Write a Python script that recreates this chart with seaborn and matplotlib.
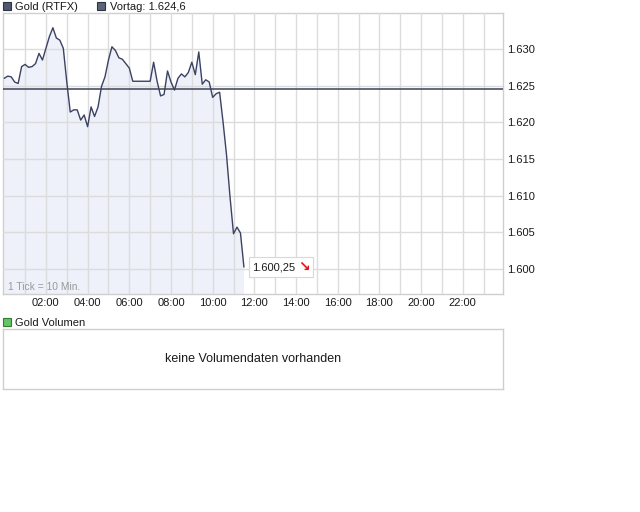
import numpy as np
import pandas as pd
import matplotlib
matplotlib.use("Agg")
import matplotlib.pyplot as plt
from matplotlib.lines import Line2D
from matplotlib.offsetbox import TextArea, HPacker, AnnotationBbox
import seaborn as sns

# ---- data (10-minute ticks starting at 00:00) ----
prices = [1.6260, 1.6263, 1.6262, 1.6255, 1.6253, 1.6276, 1.6279, 1.6275, 1.6276, 1.6280,
          1.6294, 1.6285, 1.6301, 1.6317, 1.6329, 1.6315, 1.6312, 1.6301, 1.6255, 1.6214,
          1.6217, 1.6217, 1.6203, 1.6210, 1.6194, 1.6221, 1.6208, 1.6221, 1.6249, 1.6262,
          1.6285, 1.6303, 1.6298, 1.6288, 1.6286, 1.6280, 1.6274, 1.6256, 1.6256, 1.6256,
          1.6256, 1.6256, 1.6256, 1.6282, 1.6256, 1.6236, 1.6238, 1.6270, 1.6255, 1.6244,
          1.6260, 1.6266, 1.6262, 1.6268, 1.6282, 1.6265, 1.6296, 1.6252, 1.6258, 1.6255,
          1.6234, 1.6239, 1.6241, 1.6200, 1.6155, 1.6098, 1.6048, 1.6057, 1.6049, 1.60025]
tick_minutes = 10
prev_close = 1.6246
prev_close_label = "Vortag: 1.624,6"
series_label = "Gold (RTFX)"
volume_label = "Gold Volumen"
last_label = "1.600,25"
hour_ticks = list(range(1, 24))
hour_labels = [f"{h:02d}:00" if h % 2 == 0 else "" for h in hour_ticks]
y_ticks = [1.600, 1.605, 1.610, 1.615, 1.620, 1.625, 1.630]
y_labels = ["1.600", "1.605", "1.610", "1.615", "1.620", "1.625", "1.630"]

times_h = np.arange(len(prices)) * tick_minutes / 60.0
df = pd.DataFrame({"h": times_h, "p": prices})

sns.set_style("white")
plt.rcParams["font.family"] = ["Liberation Sans", "DejaVu Sans"]

W, H = 640, 512
fig = plt.figure(figsize=(W / 100, H / 100), dpi=100)
fig.patch.set_facecolor("white")

grid_c = "#dcdcdc"
spine_c = "#cfcfcf"
line_c = "#3b4262"
text_c = "#1a1a1a"

# ---- main price panel ----
ax = fig.add_axes([3 / W, 1 - 294 / H, 500 / W, 281 / H])
ax.fill_between(df["h"], df["p"], 1.5, color="#eef0fa", lw=0, zorder=1)
sns.lineplot(data=df, x="h", y="p", ax=ax, color=line_c, lw=1.0, zorder=3)
ax.axhline(prev_close, color="#4b5166", lw=1.2, zorder=2.8)
ax.set_xlim(-0.06, 23.93)
ax.set_ylim(1.59658, 1.63491)
ax.set_xticks(hour_ticks)
ax.set_xticklabels(hour_labels)
ax.set_yticks(y_ticks)
ax.set_yticklabels(y_labels)
ax.yaxis.tick_right()
ax.tick_params(length=0, labelsize=8, labelcolor=text_c, pad=3)
ax.set_axisbelow(False)
ax.grid(True, color=grid_c, lw=1, zorder=2)
ax.set_xlabel("")
ax.set_ylabel("")
for s in ax.spines.values():
    s.set_color(spine_c)
    s.set_linewidth(1)

ax.text(0.01, 0.025, "1 Tick = 10 Min.", transform=ax.transAxes, fontsize=7.4,
        color="#9a9a9a", ha="left", va="center", zorder=5)

# last value box with red arrow
last_x, last_y = df["h"].iloc[-1], df["p"].iloc[-1]
num_area = TextArea(last_label, textprops=dict(fontsize=8, color=text_c))
arr_area = TextArea("\u2198", textprops=dict(fontsize=10, color="#e01010", fontweight="bold",
                                              family=["DejaVu Sans"]))
packed = HPacker(children=[num_area, arr_area], pad=0, sep=2, align="center")
ab = AnnotationBbox(packed, (last_x, last_y), xybox=(6, 0), boxcoords="offset points",
                    box_alignment=(0, 0.5), pad=0.2, frameon=True,
                    bboxprops=dict(boxstyle="square,pad=0.2", fc="white", ec="#d8d8d8", lw=0.8),
                    zorder=6)
ax.add_artist(ab)

# top legend
h1 = Line2D([], [], ls="none", marker="s", markersize=6, markerfacecolor="#505870",
            markeredgecolor="#2e3444", markeredgewidth=0.8)
h2 = Line2D([], [], ls="none", marker="s", markersize=6, markerfacecolor="#5c6478",
            markeredgecolor="#2e3444", markeredgewidth=0.8)
leg = ax.legend([h1, h2], [series_label, prev_close_label], ncol=2, loc="lower left",
                bbox_to_anchor=(-0.004, 1.0), frameon=False, fontsize=8, borderpad=0.1,
                borderaxespad=0.0, handlelength=0.8, handletextpad=0.4, columnspacing=1.65)
for t in leg.get_texts():
    t.set_color(text_c)

# ---- volume panel ----
ax2 = fig.add_axes([3 / W, 1 - 389 / H, 500 / W, 60 / H])
ax2.set_xticks([])
ax2.set_yticks([])
for s in ax2.spines.values():
    s.set_color(spine_c)
    s.set_linewidth(1)
ax2.text(0.5, 0.5, "keine Volumendaten vorhanden", transform=ax2.transAxes,
         ha="center", va="center", fontsize=9, color=text_c)
h3 = Line2D([], [], ls="none", marker="s", markersize=6, markerfacecolor="#66c466",
            markeredgecolor="#2f7f2f", markeredgewidth=0.8)
leg2 = ax2.legend([h3], [volume_label], loc="lower left", bbox_to_anchor=(-0.004, 1.0),
                  frameon=False, fontsize=8, borderpad=0.1, borderaxespad=0.0,
                  handlelength=0.8, handletextpad=0.4)
for t in leg2.get_texts():
    t.set_color(text_c)

fig.savefig("out.png", dpi=100, facecolor="white")
